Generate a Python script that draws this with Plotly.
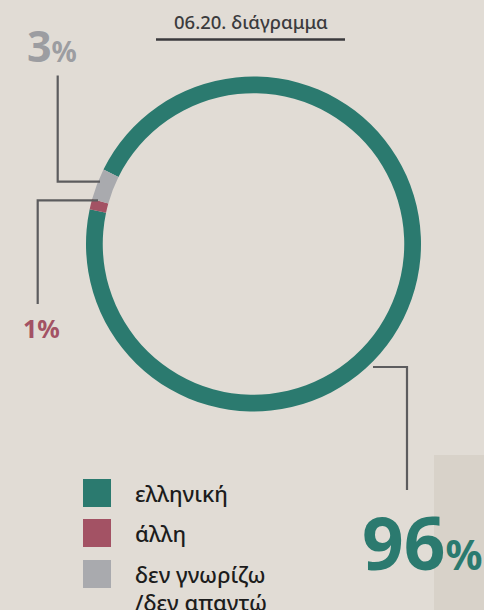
import plotly.graph_objects as go

# Data
categories = ["ελληνική", "άλλη", "δεν γνωρίζω<br>/δεν απαντώ"]
shares = [96, 1, 3]
colors = ["#2b7a6f", "#a35264", "#a9aaae"]
title_text = "06.20. διάγραμμα"

W, H = 484, 610
FONT = "Noto Sans"


def px(x):
    return x / W


def py(y):
    return 1 - y / H


fig = go.Figure()

# Ring
cx, cy, r = 253.5, 244.0, 167.5
fig.add_trace(go.Pie(
    labels=categories,
    values=shares,
    marker=dict(colors=colors, line=dict(width=0)),
    hole=0.9,
    sort=False,
    direction="clockwise",
    rotation=-63.6,
    textinfo="none",
    hoverinfo="label+percent",
    showlegend=False,
    domain=dict(x=[px(cx - r), px(cx + r)], y=[py(cy + r), py(cy - r)]),
))

shapes = []
annotations = []

# Slightly darker panel in the lower right corner
shapes.append(dict(type="rect", xref="paper", yref="paper",
                   x0=px(434), x1=1.0, y0=0.0, y1=py(455),
                   fillcolor="#d8d2c9", line=dict(width=0), layer="below"))

# Title with rule beneath it
annotations.append(dict(text=title_text, x=px(250.5), y=py(21), xref="paper", yref="paper",
                        showarrow=False, xanchor="center", yanchor="middle",
                        font=dict(family=FONT, size=18.5, color="#3b3b3d", weight=500)))
shapes.append(dict(type="line", xref="paper", yref="paper",
                   x0=px(156), x1=px(345), y0=py(39.5), y1=py(39.5),
                   line=dict(color="#3a3a3c", width=2.5)))

# Leader lines
lc = dict(color="#5c5c5e", width=2.2)


def poly(points):
    path = "M " + " L ".join(f"{px(x)},{py(y)}" for x, y in points)
    shapes.append(dict(type="path", xref="paper", yref="paper", path=path, line=lc))


poly([(100, 181.7), (57.7, 181.7), (57.7, 75.5)])
poly([(98, 200.3), (37.7, 200.3), (37.7, 304)])
poly([(373, 367), (407, 367), (407, 490)])

# Percentage callouts
annotations.append(dict(
    text=f"{shares[2]}<span style='font-size:28px'>%</span>",
    x=px(25), y=py(46), xref="paper", yref="paper", showarrow=False,
    xanchor="left", yanchor="middle",
    font=dict(family=FONT, size=43, color="#9c9da1", weight=700)))
annotations.append(dict(
    text=f"{shares[1]}%",
    x=px(21), y=py(328), xref="paper", yref="paper", showarrow=False,
    xanchor="left", yanchor="middle",
    font=dict(family=FONT, size=25, color=colors[1], weight=700)))
annotations.append(dict(
    text=f"{shares[0]}<span style='font-size:41px'>%</span>",
    x=px(360), y=py(541), xref="paper", yref="paper", showarrow=False,
    xanchor="left", yanchor="middle",
    font=dict(family=FONT, size=73, color=colors[0], weight=700)))

# Legend
legend_rows = [479, 519, 560]
for label, col, top in zip(categories, colors, legend_rows):
    shapes.append(dict(type="rect", xref="paper", yref="paper",
                       x0=px(83), x1=px(111), y0=py(top + 28), y1=py(top),
                       fillcolor=col, line=dict(width=0)))
    lines = label.split("<br>")
    for i, line in enumerate(lines):
        annotations.append(dict(text=line, x=px(133), y=py(top + 14 + 28 * i),
                                xref="paper", yref="paper", showarrow=False,
                                xanchor="left", yanchor="middle",
                                font=dict(family=FONT, size=22, color="#1c1c1c", weight=500)))

fig.update_layout(
    width=W, height=H,
    margin=dict(l=0, r=0, t=0, b=0),
    paper_bgcolor="#e1dcd5",
    plot_bgcolor="#e1dcd5",
    shapes=shapes,
    annotations=annotations,
    showlegend=False,
)

fig.write_html("out.html")
